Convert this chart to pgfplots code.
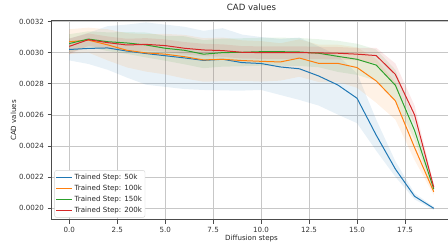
\documentclass[border=0pt]{standalone}
\usepackage{fontspec}
\setmainfont{DejaVu Sans}
\usepackage{pgfplots}
\pgfplotsset{compat=1.18}
\usepackage{pgfplotstable}
\usepgfplotslibrary{fillbetween}
\definecolor{c0}{HTML}{1F77B4}
\definecolor{c1}{HTML}{FF7F0E}
\definecolor{c2}{HTML}{2CA02C}
\definecolor{c3}{HTML}{D62728}
\newcommand{\fs}{\fontsize{7.1}{8.5}\selectfont}

\pgfplotstableread{
x m s
0 0.003020 0.00007
1 0.003027 0.00010
2 0.003030 0.00014
3 0.003010 0.00017
4 0.002994 0.00020
5 0.002980 0.00020
6 0.002966 0.00020
7 0.002950 0.00019
8 0.002957 0.00020
9 0.002936 0.00018
10 0.002930 0.00017
11 0.002908 0.00018
12 0.002896 0.00020
13 0.002850 0.00019
14 0.002792 0.00019
15 0.002707 0.00016
16 0.002470 0.00010
17 0.002252 0.00005
18 0.002077 0.00002
19 0.002000 0.00001
}\tblA

\pgfplotstableread{
x m s
0 0.003070 0.00008
1 0.003080 0.00008
2 0.003050 0.00010
3 0.003015 0.00011
4 0.002998 0.00012
5 0.002990 0.00013
6 0.002974 0.00014
7 0.002953 0.00014
8 0.002957 0.00014
9 0.002949 0.00013
10 0.002944 0.00013
11 0.002940 0.00012
12 0.002965 0.00012
13 0.002931 0.00012
14 0.002931 0.00012
15 0.002904 0.00013
16 0.002818 0.00014
17 0.002690 0.00012
18 0.002390 0.00008
19 0.002106 0.00002
}\tblB

\pgfplotstableread{
x m s
0 0.003058 0.00006
1 0.003087 0.00005
2 0.003070 0.00006
3 0.003062 0.00007
4 0.003049 0.00008
5 0.003028 0.00008
6 0.003015 0.00009
7 0.002990 0.00009
8 0.003000 0.00009
9 0.003002 0.00009
10 0.003006 0.00009
11 0.003006 0.00009
12 0.003004 0.00009
13 0.002996 0.00009
14 0.002976 0.00010
15 0.002957 0.00010
16 0.002920 0.00010
17 0.002790 0.00010
18 0.002500 0.00006
19 0.002124 0.00002
}\tblC

\pgfplotstableread{
x m s
0 0.003040 0.00005
1 0.003083 0.00004
2 0.003064 0.00004
3 0.003049 0.00004
4 0.003053 0.00004
5 0.003045 0.00004
6 0.003028 0.00004
7 0.003017 0.00004
8 0.003013 0.00004
9 0.003002 0.00004
10 0.003000 0.00004
11 0.003000 0.00004
12 0.003000 0.00004
13 0.002998 0.00004
14 0.002996 0.00004
15 0.002990 0.00004
16 0.002981 0.00005
17 0.002860 0.00007
18 0.002600 0.00006
19 0.002135 0.00002
}\tblD

\begin{document}
\begin{tikzpicture}
\begin{axis}[
  at={(51pt,24pt)}, anchor=south west,
  scale only axis, width=401pt, height=199pt,
  xmin=-0.95, xmax=19.95, ymin=0.001925, ymax=0.003203,
  xtick={0,2.5,5,7.5,10,12.5,15,17.5},
  ytick={0.0020,0.0022,0.0024,0.0026,0.0028,0.0030,0.0032},
  scaled y ticks=false, scaled x ticks=false,
  /pgf/number format/assume math mode=true,
  xticklabel style={font=\fs, text=black!80, /pgf/number format/.cd, fixed, fixed zerofill, precision=1},
  yticklabel style={font=\fs, text=black!80, /pgf/number format/.cd, fixed, fixed zerofill, precision=4},
  tick align=outside, major tick length=3.5pt,
  tick style={black!70, line width=0.8pt},
  xtick pos=bottom, ytick pos=left,
  grid=major, major grid style={black!22, line width=0.7pt},
  axis line style={black!70, line width=1pt},
  title={CAD values},
  title style={font=\fontsize{8.6}{10}\selectfont, text=black!85, at={(axis description cs:0.5,1)}, anchor=base, yshift=4.3pt},
  xlabel={Diffusion steps},
  xlabel style={font=\fs, text=black!85, at={(axis description cs:0.5,0)}, anchor=base, yshift=-21pt},
  ylabel={CAD values},
  ylabel style={font=\fs, text=black!85, at={(axis description cs:-0.0935,0.5)}, anchor=center},
  legend cell align=left,
  legend style={font=\fs, text=black!85, at={(axis description cs:0.0085,0.012)}, anchor=south west,
    draw=black!18, fill=white, rounded corners=2pt,
    inner xsep=1pt, inner ysep=1.5pt, nodes={inner ysep=2pt, inner xsep=2pt, text height=5.3pt, text depth=1.7pt}},
  legend image code/.code={\draw[#1, line width=1.4pt] (0pt,0pt) -- (15.6pt,0pt);},
]
% bands
\addplot[draw=none, name path=aU, forget plot] table[x=x, y expr=\thisrow{m}+\thisrow{s}] {\tblA};
\addplot[draw=none, name path=aL, forget plot] table[x=x, y expr=\thisrow{m}-\thisrow{s}] {\tblA};
\addplot[fill=c0, fill opacity=0.1, draw=none, forget plot] fill between[of=aU and aL];
\addplot[draw=none, name path=bU, forget plot] table[x=x, y expr=\thisrow{m}+\thisrow{s}] {\tblB};
\addplot[draw=none, name path=bL, forget plot] table[x=x, y expr=\thisrow{m}-\thisrow{s}] {\tblB};
\addplot[fill=c1, fill opacity=0.1, draw=none, forget plot] fill between[of=bU and bL];
\addplot[draw=none, name path=cU, forget plot] table[x=x, y expr=\thisrow{m}+\thisrow{s}] {\tblC};
\addplot[draw=none, name path=cL, forget plot] table[x=x, y expr=\thisrow{m}-\thisrow{s}] {\tblC};
\addplot[fill=c2, fill opacity=0.1, draw=none, forget plot] fill between[of=cU and cL];
\addplot[draw=none, name path=dU, forget plot] table[x=x, y expr=\thisrow{m}+\thisrow{s}] {\tblD};
\addplot[draw=none, name path=dL, forget plot] table[x=x, y expr=\thisrow{m}-\thisrow{s}] {\tblD};
\addplot[fill=c3, fill opacity=0.1, draw=none, forget plot] fill between[of=dU and dL];
% lines
\addplot[c0, line width=1pt, mark=none] table[x=x, y=m] {\tblA};
\addlegendentry{Trained Step: 50k}
\addplot[c1, line width=1pt, mark=none] table[x=x, y=m] {\tblB};
\addlegendentry{Trained Step: 100k}
\addplot[c2, line width=1pt, mark=none] table[x=x, y=m] {\tblC};
\addlegendentry{Trained Step: 150k}
\addplot[c3, line width=1pt, mark=none] table[x=x, y=m] {\tblD};
\addlegendentry{Trained Step: 200k}
\end{axis}
\pgfresetboundingbox
\path[use as bounding box] (0,0) rectangle (448pt,244pt);
\end{tikzpicture}
\end{document}
